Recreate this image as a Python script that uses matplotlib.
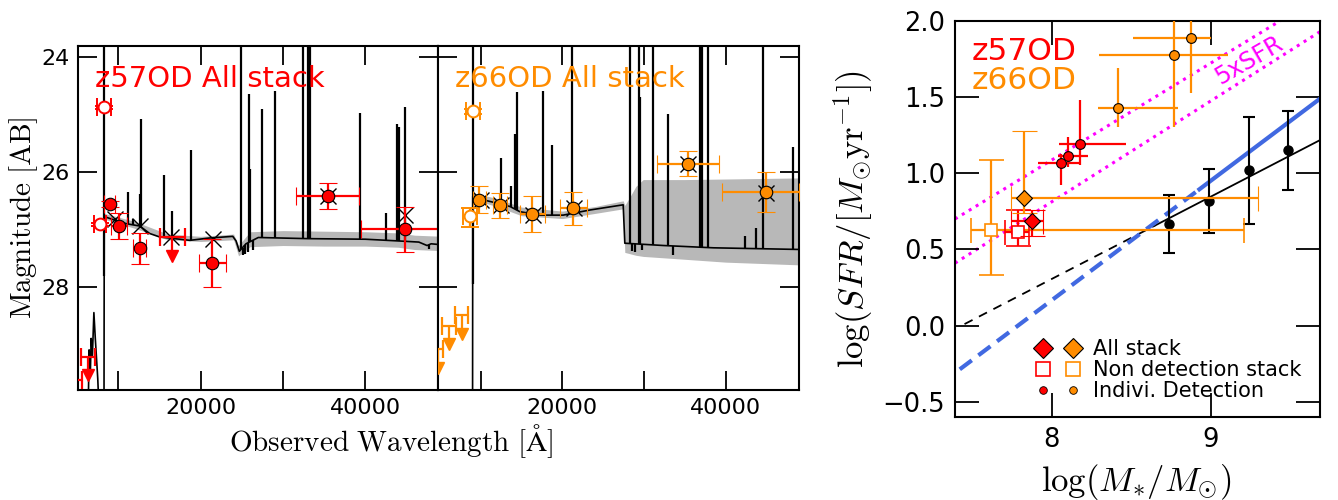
import numpy as np
import matplotlib.pyplot as plt
from matplotlib.lines import Line2D
from matplotlib.legend_handler import HandlerTuple

plt.rcParams["mathtext.fontset"] = "cm"
plt.rcParams["axes.linewidth"] = 1.5

RED = "red"
ORANGE = "darkorange"
OFF_TOP = 22.0  # lines that run off the top of the SED panels

# ---------------- z57OD all stack ----------------
z57_cont_wl = [4800, 6300, 6450, 6600, 6700, 6850, 7030, 7200, 7500, 7900, 8250,
               8290, 8400, 9600, 11000, 12600, 13800, 15000, 18700, 21000, 23900,
               24300, 24700, 25500, 27000, 33000, 40000, 44000, 46500, 47500, 48000, 49500]
z57_cont_mag = [31.0, 30.5, 29.1, 29.5, 28.9, 29.2, 28.45, 28.9, 29.6, 31.0, 31.0,
                26.75, 26.78, 26.84, 26.90, 26.94, 27.07, 27.13, 27.19, 27.15, 27.12,
                27.20, 27.38, 27.25, 27.14, 27.16, 27.17, 27.20, 27.22, 27.28, 27.25, 27.27]
z57_band_wl = [8300, 12000, 16000, 20000, 24000, 24600, 26000, 30000, 35000, 40000, 44000, 46000, 49500]
z57_band_hi = [26.72, 26.86, 27.08, 27.12, 27.08, 27.28, 27.04, 27.02, 27.03, 27.04, 27.06, 27.10, 27.12]
z57_band_lo = [26.82, 26.98, 27.18, 27.21, 27.18, 27.46, 27.30, 27.28, 27.29, 27.29, 27.31, 27.35, 27.37]
z57_line_wl = [8280, 11170, 11780, 12590, 12790, 15550, 16520, 18790, 24940, 25870,
               26030, 27410, 29030, 32430, 33080, 33320, 39310, 42470, 43850, 44090, 44860,
               25100, 25400, 25700, 26300, 47700]
z57_line_peak = [OFF_TOP, 26.35, 26.81, 26.38, 25.07, 26.05, 26.67, 25.62, OFF_TOP, 24.64,
                 25.94, 24.90, 24.59, OFF_TOP, OFF_TOP, OFF_TOP, 24.96, 26.72, 25.16, 25.22, 24.87,
                 27.45, 27.42, 27.40, 27.36, 27.34]

z57_det_wl = [8950, 10040, 12590, 21420, 35470, 44780]
z57_det_mag = [26.55, 26.94, 27.32, 27.58, 26.41, 27.00]
z57_det_xerr = [[650, 970, 810, 1620, 3840, 5270], [650, 970, 810, 1620, 3720, 5220]]
z57_det_yerr = [[0.05, 0.22, 0.26, 0.42, 0.22, 0.39], [0.05, 0.23, 0.29, 0.42, 0.23, 0.39]]
z57_open_wl = [8260, 7800]
z57_open_mag = [24.87, 26.91]
z57_open_xerr = [800, 750]
z57_open_yerr = [0.03, 0.03]
z57_lim_wl = [16520, 6320, 4700]
z57_lim_mag = [27.14, 29.22, 29.62]
z57_lim_xerr = [1520, 810, 900]
z57_model_wl = [9600, 12600, 16450, 21450, 35470, 44780]
z57_model_mag = [26.81, 26.94, 27.14, 27.16, 26.41, 26.75]

# ---------------- z66OD all stack ----------------
z66_cont_wl = [4800, 9000, 9030, 9300, 10500, 12000, 13600, 14800, 17300, 20100, 23400,
               27450, 27650, 32400, 38500, 49500]
z66_cont_mag = [31.0, 31.0, 26.42, 26.43, 26.49, 26.54, 26.60, 26.69, 26.75, 26.75, 26.66,
                26.57, 27.24, 27.28, 27.32, 27.35]
z66_band_wl = [9030, 12000, 15000, 20000, 24000, 27450, 27650, 28200, 29000, 29900, 35000, 40000, 49500]
z66_band_hi = [26.36, 26.46, 26.61, 26.68, 26.60, 26.50, 26.58, 26.45, 26.25, 26.13, 26.13, 26.12, 26.10]
z66_band_lo = [26.48, 26.60, 26.76, 26.81, 26.72, 26.64, 27.40, 27.42, 27.45, 27.47, 27.52, 27.57, 27.62]
z66_line_wl = [9020, 12490, 13710, 14200, 14410, 17590, 18690, 21140, 28290, 29390,
               29550, 31060, 32980, 36860, 37060, 37880, 42370, 43670, 44610, 48290,
               28500, 28900, 29700, 33600]
z66_line_peak = [OFF_TOP, 25.76, 26.25, 25.33, 24.61, 24.58, 25.53, OFF_TOP, OFF_TOP, OFF_TOP,
                 24.69, OFF_TOP, 24.98, OFF_TOP, OFF_TOP, OFF_TOP, 27.12, 26.98, OFF_TOP, 25.56,
                 27.38, 27.40, 27.36, 27.45]

z66_det_wl = [9840, 12370, 16330, 21350, 35430, 44900]
z66_det_mag = [26.49, 26.57, 26.73, 26.63, 25.85, 26.34]
z66_det_xerr = [[820, 850, 1530, 1630, 3800, 5390], [820, 850, 1530, 1630, 3790, 4100]]
z66_det_yerr = [[0.24, 0.21, 0.32, 0.29, 0.22, 0.35], [0.22, 0.23, 0.32, 0.29, 0.22, 0.35]]
z66_open_wl = [9020, 8690]
z66_open_mag = [24.94, 26.77]
z66_open_xerr = [860, 820]
z66_open_yerr = [[0.04, 0.14], [0.04, 0.18]]
z66_lim_wl = [7670, 6120, 4750]
z66_lim_mag = [28.50, 28.68, 29.09]
z66_lim_xerr = [820, 820, 620]
z66_model_wl = [10000, 12440, 16380, 21380, 35430, 44900]
z66_model_mag = [26.49, 26.58, 26.74, 26.62, 25.85, 26.36]

# ---------------- SFR - stellar mass ----------------
ms_mass = [8.74, 8.99, 9.24, 9.49]
ms_sfr = [0.67, 0.82, 1.02, 1.15]
ms_err = [[0.19, 0.21, 0.35, 0.26], [0.19, 0.21, 0.35, 0.26]]

fit_dash_mass = [7.45, 8.65]
fit_dash_sfr = [0.01, 0.657]
fit_solid_mass = [8.65, 9.69]
fit_solid_sfr = [0.657, 1.218]
blue_dash_mass = [7.42, 8.93]
blue_dash_sfr = [-0.287, 0.895]
blue_solid_mass = [8.93, 9.69]
blue_solid_sfr = [0.895, 1.49]
sfr5_a_mass = [7.39, 9.50]
sfr5_a_sfr = [0.70, 2.04]
sfr5_b_mass = [7.39, 9.69]
sfr5_b_sfr = [0.41, 1.93]

z57_ind_mass = [8.055, 8.105, 8.18]
z57_ind_sfr = [1.07, 1.115, 1.195]
z57_ind_xerr = [[0.14, 0.065, 0.134], [0.12, 0.12, 0.29]]
z57_ind_yerr = [[0.15, 0.075, 0.14], [0.06, 0.125, 0.285]]
z66_ind_mass = [8.418, 8.767, 8.874]
z66_ind_sfr = [1.43, 1.78, 1.89]
z66_ind_xerr = [[0.125, 0.47, 0.363], [0.378, 0.343, 0.126]]
z66_ind_yerr = [[0.124, 0.475, 0.365], [0.26, 0.3, 0.3]]

z57_all_mass, z57_all_sfr = [7.873], [0.689]
z57_all_xerr, z57_all_yerr = [[0.13], [0.07]], [[0.10], [0.07]]
z66_all_mass, z66_all_sfr = [7.824], [0.840]
z66_all_xerr, z66_all_yerr = [[0.08], [1.476]], [[0.10], [0.44]]
z57_non_mass, z57_non_sfr = [7.788], [0.612]
z57_non_xerr, z57_non_yerr = [[0.08], [0.07]], [[0.09], [0.15]]
z66_non_mass, z66_non_sfr = [7.614], [0.625]
z66_non_xerr, z66_non_yerr = [[0.124], [1.60]], [[0.29], [0.46]]


def draw_sed(ax, cont_wl, cont_mag, band_wl, band_hi, band_lo, line_wl, line_peak):
    ax.fill_between(band_wl, band_hi, band_lo, color="0.72", lw=0, zorder=1)
    ax.plot(cont_wl, cont_mag, color="k", lw=1.2, zorder=2)
    base = np.interp(line_wl, cont_wl, cont_mag)
    ax.vlines(line_wl, base, line_peak, color="k", lw=1.6, zorder=2)


def draw_phot(ax, color, det, opn, lim, model):
    ax.plot(model[0], model[1], "x", color="k", ms=12, mew=1.0, zorder=4)
    ax.errorbar(det[0], det[1], xerr=det[2], yerr=det[3], fmt="o", ms=9,
                mfc=color, mec="k", mew=0.8, ecolor=color, elinewidth=1.6,
                capsize=6.5, capthick=1.6, zorder=5)
    ax.errorbar(opn[0], opn[1], xerr=opn[2], yerr=opn[3], fmt="o", ms=8.5,
                mfc="white", mec=color, mew=1.4, ecolor=color, elinewidth=1.6,
                capsize=6.5, capthick=1.6, zorder=5)
    # upper limits in flux: bar toward fainter magnitudes with an arrow head
    lim_wl, lim_mag, lim_xerr = lim
    tip = np.array(lim_mag) + 0.32
    ax.errorbar(lim_wl, lim_mag, xerr=lim_xerr, fmt="none", ecolor=color,
                elinewidth=1.6, capsize=6.5, capthick=1.6, zorder=5)
    ax.vlines(lim_wl, lim_mag, tip, color=color, lw=1.6, zorder=5)
    ax.plot(lim_wl, tip, "v", color=color, ms=9, zorder=5)


def style_sed(ax, xlim, show_ylabels):
    ax.set_xlim(*xlim)
    ax.set_ylim(29.8, 23.8)
    ax.set_xticks([10000, 20000, 30000, 40000])
    ax.set_xticklabels(["", "20000", "", "40000"])
    ax.set_yticks([24, 26, 28])
    if not show_ylabels:
        ax.set_yticklabels([])
    ax.tick_params(direction="in", length=14, width=1.3, top=True, right=True,
                   labelsize=16, pad=6)


fig = plt.figure(figsize=(13.38, 5.0), dpi=100)
ax1 = fig.add_axes([78 / 1338, 110 / 500, 360 / 1338, 344 / 500])
ax2 = fig.add_axes([438.3 / 1338, 110 / 500, 360.7 / 1338, 344 / 500])
ax3 = fig.add_axes([955 / 1338, 83 / 500, 365 / 1338, 396 / 500])

draw_sed(ax1, z57_cont_wl, z57_cont_mag, z57_band_wl, z57_band_hi, z57_band_lo,
         z57_line_wl, z57_line_peak)
draw_phot(ax1, RED,
          (z57_det_wl, z57_det_mag, z57_det_xerr, z57_det_yerr),
          (z57_open_wl, z57_open_mag, z57_open_xerr, z57_open_yerr),
          (z57_lim_wl, z57_lim_mag, z57_lim_xerr),
          (z57_model_wl, z57_model_mag))
style_sed(ax1, (5100, 48830), True)
ax1.text(0.047, 0.882, "z57OD All stack", transform=ax1.transAxes, color=RED,
         fontsize=21, va="baseline")

draw_sed(ax2, z66_cont_wl, z66_cont_mag, z66_band_wl, z66_band_hi, z66_band_lo,
         z66_line_wl, z66_line_peak)
draw_phot(ax2, ORANGE,
          (z66_det_wl, z66_det_mag, z66_det_xerr, z66_det_yerr),
          (z66_open_wl, z66_open_mag, z66_open_xerr, z66_open_yerr),
          (z66_lim_wl, z66_lim_mag, z66_lim_xerr),
          (z66_model_wl, z66_model_mag))
style_sed(ax2, (4810, 48980), False)
ax2.text(0.046, 0.882, "z66OD All stack", transform=ax2.transAxes, color=ORANGE,
         fontsize=21, va="baseline")

fig.text(0.0175, 0.564, r"$\mathrm{Magnitude\ [AB]}$", rotation=90,
         ha="center", va="center", fontsize=21)
fig.text(0.2922, 0.118, r"$\mathrm{Observed\ Wavelength\ [\AA]}$",
         ha="center", va="center", fontsize=21)

# ---- SFR vs stellar mass ----
ax3.plot(sfr5_a_mass, sfr5_a_sfr, color="magenta", ls=":", lw=2.2, zorder=1)
ax3.plot(sfr5_b_mass, sfr5_b_sfr, color="magenta", ls=":", lw=2.2, zorder=1)
ax3.plot(fit_dash_mass, fit_dash_sfr, color="k", lw=1.3, dashes=(5, 4), zorder=2)
ax3.plot(fit_solid_mass, fit_solid_sfr, color="k", lw=1.3, zorder=2)
ax3.plot(blue_dash_mass, blue_dash_sfr, color="royalblue", lw=3, dashes=(3.6, 2), zorder=2)
ax3.plot(blue_solid_mass, blue_solid_sfr, color="royalblue", lw=3, zorder=2)
ax3.errorbar(ms_mass, ms_sfr, yerr=ms_err, fmt="o", ms=6.5, color="k",
             elinewidth=1.5, capsize=4.5, capthick=1.5, zorder=3)

ax3.errorbar(z66_ind_mass, z66_ind_sfr, xerr=z66_ind_xerr, yerr=z66_ind_yerr,
             fmt="o", ms=7, mfc=ORANGE, mec="k", mew=0.8, ecolor=ORANGE,
             elinewidth=1.6, capsize=0, zorder=4)
ax3.errorbar(z57_ind_mass, z57_ind_sfr, xerr=z57_ind_xerr, yerr=z57_ind_yerr,
             fmt="o", ms=7, mfc=RED, mec="k", mew=0.8, ecolor=RED,
             elinewidth=1.6, capsize=0, zorder=4)

for mass, sfr, xe, ye, col in [(z66_non_mass, z66_non_sfr, z66_non_xerr, z66_non_yerr, ORANGE),
                               (z57_non_mass, z57_non_sfr, z57_non_xerr, z57_non_yerr, RED)]:
    ax3.errorbar(mass, sfr, xerr=xe, yerr=ye, fmt="s", ms=8.6, mfc="white",
                 mec=col, mew=1.2, ecolor=col, elinewidth=1.6, capsize=9,
                 capthick=1.6, zorder=5)
for mass, sfr, xe, ye, col in [(z57_all_mass, z57_all_sfr, z57_all_xerr, z57_all_yerr, RED),
                               (z66_all_mass, z66_all_sfr, z66_all_xerr, z66_all_yerr, ORANGE)]:
    ax3.errorbar(mass, sfr, xerr=xe, yerr=ye, fmt="D", ms=8.2, mfc=col,
                 mec="k", mew=0.8, ecolor=col, elinewidth=1.6, capsize=9,
                 capthick=1.6, zorder=6)

ax3.set_xlim(7.39, 9.69)
ax3.set_ylim(-0.6, 2.0)
ax3.set_xticks([8, 9])
ax3.set_yticks([-0.5, 0.0, 0.5, 1.0, 1.5, 2.0])
ax3.tick_params(direction="in", length=17, width=1.3, top=True, right=True,
                labelsize=18.5, pad=7)

ax3.text(0.046, 0.9025, "z57OD", transform=ax3.transAxes, color=RED,
         fontsize=22.5, va="baseline")
ax3.text(0.046, 0.829, "z66OD", transform=ax3.transAxes, color=ORANGE,
         fontsize=22.5, va="baseline")
ax3.text(9.24, 1.744, "5xSFR", color="magenta", fontsize=17, rotation=30,
         ha="center", va="center")

handles = [
    (Line2D([], [], ls="none", marker="D", ms=10, mfc=RED, mec="k", mew=0.8),
     Line2D([], [], ls="none", marker="D", ms=10, mfc=ORANGE, mec="k", mew=0.8)),
    (Line2D([], [], ls="none", marker="s", ms=10, mfc="white", mec=RED, mew=1.2),
     Line2D([], [], ls="none", marker="s", ms=10, mfc="white", mec=ORANGE, mew=1.2)),
    (Line2D([], [], ls="none", marker="o", ms=5.5, mfc=RED, mec="k", mew=0.6),
     Line2D([], [], ls="none", marker="o", ms=5.5, mfc=ORANGE, mec="k", mew=0.6)),
]
ax3.legend(handles, ["All stack", "Non detection stack", "Indivi. Detection"],
           handler_map={tuple: HandlerTuple(ndivide=None, pad=0)},
           frameon=False, fontsize=15, loc="lower left",
           bbox_to_anchor=(0.199, 0.04), borderaxespad=0, borderpad=0,
           handlelength=2.9, handletextpad=0.22, labelspacing=0.05)

fig.text(0.6377, 0.562, r"$\log(SFR/[M_{\odot}{\rm yr}^{-1}])$", rotation=90,
         ha="center", va="center", fontsize=25)
fig.text(0.849, 0.036, r"$\log(M_{*}/M_{\odot})$", ha="center", va="center",
         fontsize=25)

fig.savefig("out.png", dpi=100)
